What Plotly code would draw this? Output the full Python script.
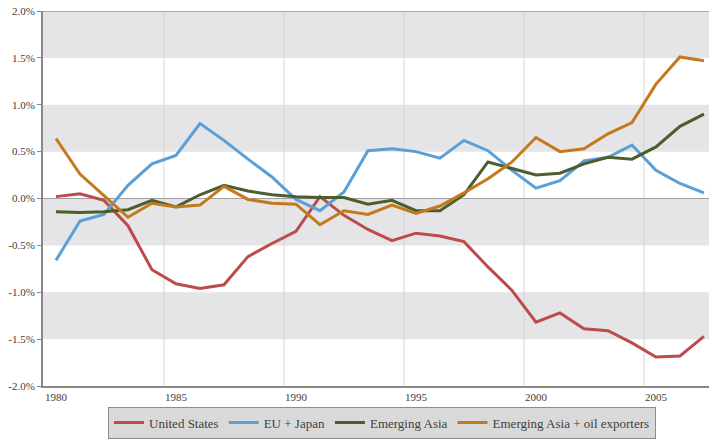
import plotly.graph_objects as go

years = list(range(1980, 2008))

united_states = [0.02, 0.05, -0.02, -0.29, -0.76, -0.91, -0.96, -0.92, -0.62, -0.48,
                 -0.35, 0.02, -0.18, -0.33, -0.45, -0.37, -0.40, -0.46, -0.73, -0.98,
                 -1.32, -1.22, -1.39, -1.41, -1.54, -1.69, -1.68, -1.47]
eu_japan = [-0.66, -0.24, -0.17, 0.14, 0.37, 0.46, 0.80, 0.62, 0.42, 0.23,
            -0.01, -0.13, 0.07, 0.51, 0.53, 0.50, 0.43, 0.62, 0.51, 0.30,
            0.11, 0.19, 0.40, 0.44, 0.57, 0.30, 0.16, 0.06]
emerging_asia = [-0.14, -0.15, -0.14, -0.12, -0.02, -0.09, 0.04, 0.14, 0.08, 0.04,
                 0.02, 0.01, 0.01, -0.06, -0.02, -0.13, -0.13, 0.04, 0.39, 0.32,
                 0.25, 0.27, 0.37, 0.44, 0.42, 0.55, 0.77, 0.90]
emerging_asia_oil = [0.64, 0.26, 0.03, -0.20, -0.05, -0.09, -0.07, 0.13, -0.01, -0.05,
                     -0.06, -0.28, -0.13, -0.17, -0.07, -0.16, -0.08, 0.06, 0.21, 0.39,
                     0.65, 0.50, 0.53, 0.69, 0.81, 1.22, 1.51, 1.47]

series_names = ["United States", "EU + Japan", "Emerging Asia", "Emerging Asia + oil exporters"]
series_values = [united_states, eu_japan, emerging_asia, emerging_asia_oil]
series_colors = ["#bc4b4b", "#5a9fd6", "#4c5e2c", "#c27a1c"]

y_ticks = [-2.0, -1.5, -1.0, -0.5, 0.0, 0.5, 1.0, 1.5, 2.0]
y_ticktext = ["-2.0%", "-1.5%", "-1.0%", "-0.5%", "0.0%", "0.5%", "1.0%", "1.5%", "2.0%"]
x_ticks = [1980, 1985, 1990, 1995, 2000, 2005]
bands = [(1.5, 2.0), (0.5, 1.0), (-0.5, 0.0), (-1.5, -1.0)]
vgrid = [1984.5, 1989.5, 1994.5, 1999.5, 2004.5]

font_family = "Liberation Serif"

fig = go.Figure()
for name, vals, col in zip(series_names, series_values, series_colors):
    fig.add_trace(go.Scatter(x=years, y=vals, name=name, mode="lines",
                             line=dict(color=col, width=3)))

shapes = []
for y0, y1 in bands:
    shapes.append(dict(type="rect", xref="paper", yref="y", x0=0, x1=1, y0=y0, y1=y1,
                       fillcolor="#e5e5e7", line=dict(width=0), layer="below"))
for gx in vgrid:
    shapes.append(dict(type="line", xref="x", yref="paper", x0=gx, x1=gx, y0=0, y1=1,
                       line=dict(color="#d4d4d4", width=1), layer="below"))
shapes.append(dict(type="line", xref="paper", yref="y", x0=0, x1=1, y0=0, y1=0,
                   line=dict(color="#a0a0a0", width=1), layer="below"))
shapes.append(dict(type="line", xref="paper", yref="y", x0=0, x1=1, y0=2, y1=2,
                   line=dict(color="#a8a8a8", width=2), layer="below"))

fig.update_layout(
    width=709, height=440,
    margin=dict(l=43, r=0, t=11, b=54),
    paper_bgcolor="white", plot_bgcolor="white",
    font=dict(family=font_family, size=11, color="#404040"),
    shapes=shapes,
    showlegend=True,
    legend=dict(orientation="h", x=0.509, xanchor="center", y=-0.140, yanchor="bottom",
                bgcolor="#d9d9d9", bordercolor="#8c8c8c", borderwidth=1,
                font=dict(family=font_family, size=13, color="#404040"),
                itemwidth=30, tracegroupgap=0, itemclick=False),
    xaxis=dict(range=[1979.46, 2007.21], tickvals=x_ticks, showgrid=False, zeroline=False,
               showline=True, linecolor="#888888", linewidth=2, ticks="",
               tickfont=dict(family=font_family, size=11, color="#404040")),
    yaxis=dict(range=[-2.0, 2.0], tickvals=y_ticks, ticktext=y_ticktext, showgrid=False,
               zeroline=False, showline=True, linecolor="#888888", linewidth=2,
               ticks="outside", ticklen=4, tickcolor="#888888", tickwidth=1,
               tickfont=dict(family=font_family, size=11, color="#404040")),
)

fig.write_html("out.html", config={"displayModeBar": False},
               post_script="document.body.style.margin='0';document.body.style.overflow='hidden';")
